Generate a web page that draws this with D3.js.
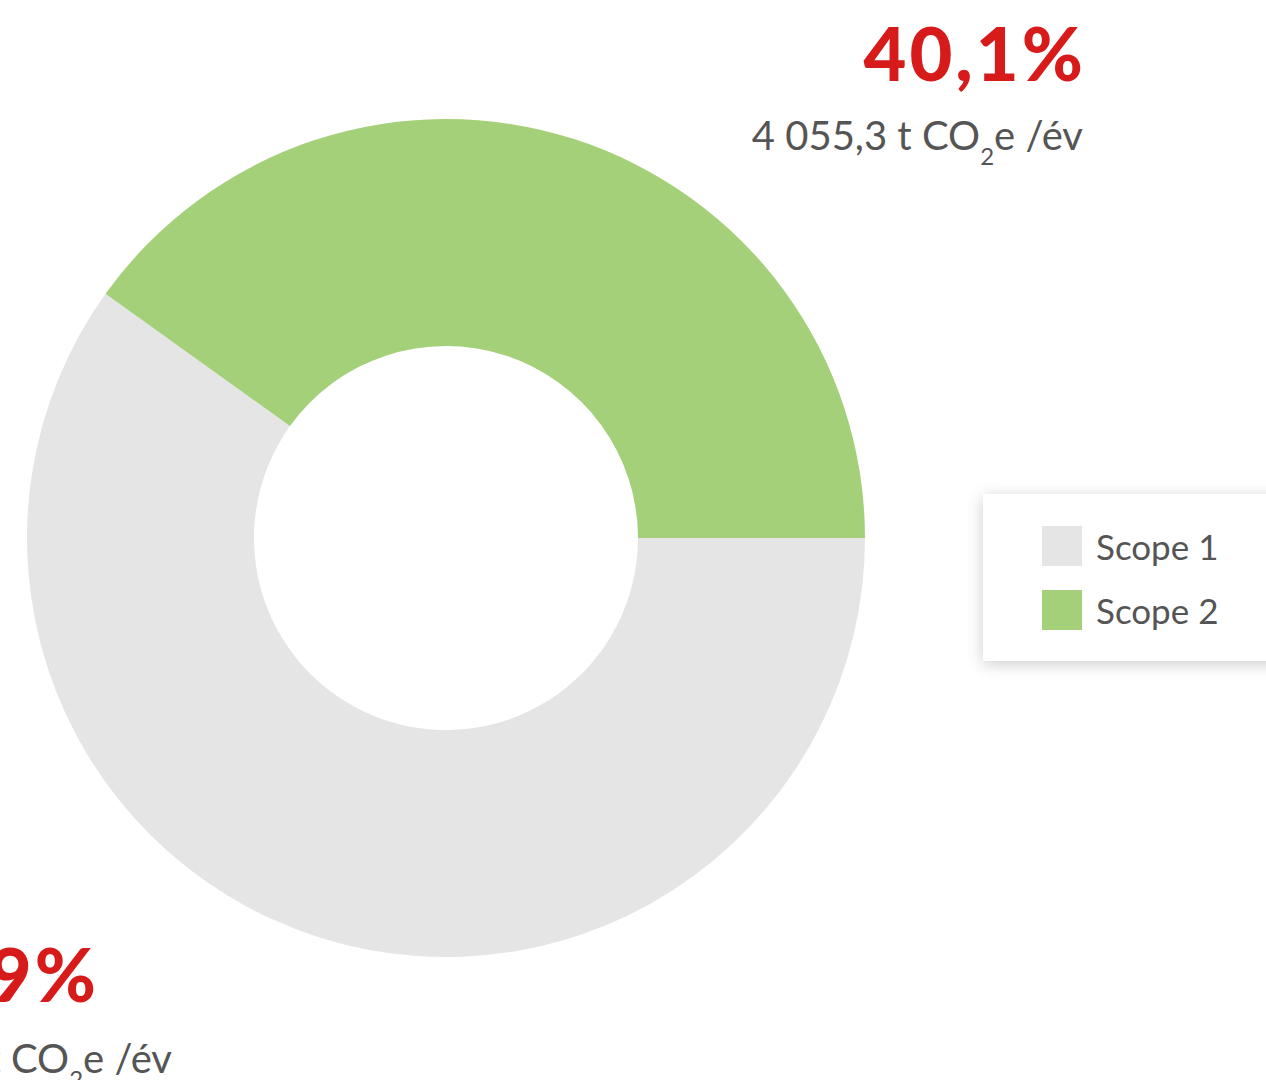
<!DOCTYPE html>
<html><head><meta charset="utf-8">
<script src="https://cdn.jsdelivr.net/npm/d3@7"></script>
<style>html,body{margin:0;padding:0;background:#fff;overflow:hidden}</style>
</head><body>
<svg id="c" width="1266" height="1080"></svg>
<script>
const categories = ["Scope 1", "Scope 2"];
const percents = [59.9, 40.1];
const percentLabels = ["59,9%", "40,1%"];
const tonnes = ["6 057,7", "4 055,3"];
const colors = ["#e5e5e5", "#a3d078"];

const svg = d3.select("#c");
const font = "Lato, 'Open Sans', sans-serif";
const cx = 446, cy = 538, rOuter = 419, rInner = 192;

const pie = d3.pie().sort(null).value(d => d).startAngle(Math.PI/2).endAngle(Math.PI/2 + 2*Math.PI);
const arc = d3.arc().innerRadius(rInner).outerRadius(rOuter);
const color = d3.scaleOrdinal().domain(categories).range(colors);

const g = svg.append("g").attr("transform", `translate(${cx},${cy})`);
g.selectAll("path").data(pie(percents)).join("path")
  .attr("d", arc).attr("fill", (d,i) => color(categories[i]));

// labels
const labelPos = [
  {x1: 99, y1: 1002, x2: 172, y2: 1073},
  {x1: 1086, y1: 81, x2: 1083, y2: 150}
];
percents.forEach((p, i) => {
  const lp = labelPos[i];
  svg.append("text").attr("x", lp.x1).attr("y", lp.y1).attr("text-anchor", "end")
    .attr("font-family", font).attr("font-weight", 900).attr("font-size", 74)
    .attr("letter-spacing", 3)
    .attr("fill", "#d71a1a").text(percentLabels[i]);
  const t = svg.append("text").attr("x", lp.x2).attr("y", lp.y2).attr("text-anchor", "end")
    .attr("font-family", font).attr("font-size", 40).attr("fill", "#555555");
  t.append("tspan").text(tonnes[i] + " t CO");
  t.append("tspan").attr("font-size", 24).attr("dy", 15).text("2");
  t.append("tspan").attr("dy", -15).text("e /év");
});

// legend
const defs = svg.append("defs");
const f = defs.append("filter").attr("id", "sh").attr("x", "-20%").attr("y", "-30%").attr("width", "140%").attr("height", "160%");
f.append("feDropShadow").attr("dx", 0).attr("dy", 3).attr("stdDeviation", 8).attr("flood-color", "#000").attr("flood-opacity", 0.2);
svg.append("rect").attr("x", 983).attr("y", 494).attr("width", 320).attr("height", 167)
  .attr("fill", "#fff").attr("filter", "url(#sh)");
categories.forEach((c, i) => {
  const y = 526 + i * 64;
  svg.append("rect").attr("x", 1042).attr("y", y).attr("width", 40).attr("height", 40).attr("fill", color(c));
  svg.append("text").attr("x", 1096).attr("y", y + 34).attr("font-family", font).attr("font-size", 35)
    .attr("fill", "#555555").text(c);
});
</script>
</body></html>
